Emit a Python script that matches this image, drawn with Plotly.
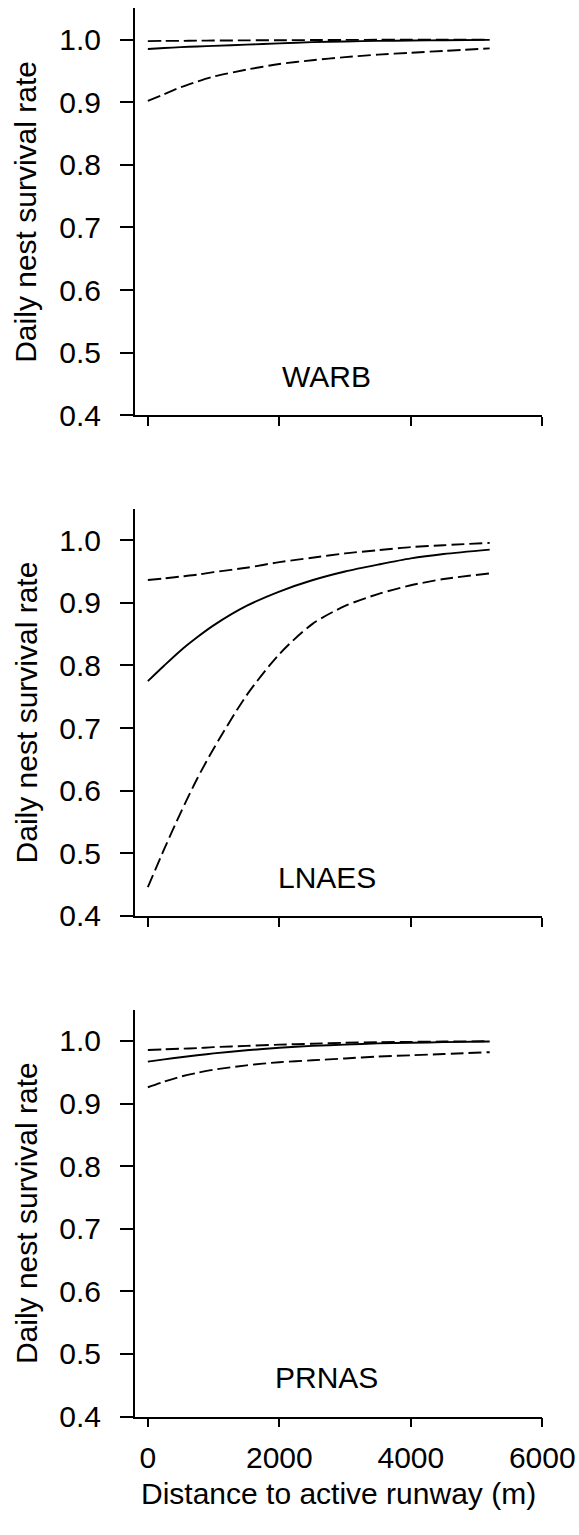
import plotly.graph_objects as go

# Distance to active runway (m)
distance = [0, 250, 500, 750, 1000, 1500, 2000, 2500, 3000, 3500, 4000, 4500, 5200]

species = ["WARB", "LNAES", "PRNAS"]

# Estimate (solid), upper and lower 95% CI (dashed)
warb_est = [0.985, 0.9865, 0.988, 0.989, 0.990, 0.992, 0.994, 0.996, 0.997, 0.998, 0.9985, 0.999, 0.9995]
warb_hi = [0.9975, 0.998, 0.998, 0.9983, 0.9985, 0.9988, 0.999, 0.9993, 0.9995, 0.9997, 0.9998, 0.9999, 0.9999]
warb_lo = [0.902, 0.913, 0.924, 0.933, 0.941, 0.952, 0.961, 0.967, 0.972, 0.976, 0.979, 0.982, 0.986]

lnaes_est = [0.775, 0.800, 0.824, 0.845, 0.864, 0.895, 0.918, 0.936, 0.950, 0.961, 0.971, 0.978, 0.985]
lnaes_hi = [0.9365, 0.939, 0.942, 0.945, 0.949, 0.956, 0.965, 0.972, 0.979, 0.984, 0.989, 0.992, 0.9957]
lnaes_lo = [0.446, 0.507, 0.565, 0.619, 0.667, 0.752, 0.818, 0.866, 0.895, 0.914, 0.928, 0.938, 0.947]

prnas_est = [0.967, 0.9705, 0.974, 0.977, 0.980, 0.985, 0.989, 0.992, 0.994, 0.996, 0.997, 0.998, 0.999]
prnas_hi = [0.9855, 0.9865, 0.9875, 0.9885, 0.990, 0.992, 0.994, 0.9955, 0.997, 0.998, 0.9985, 0.999, 0.9995]
prnas_lo = [0.926, 0.935, 0.943, 0.949, 0.954, 0.961, 0.966, 0.969, 0.972, 0.975, 0.977, 0.979, 0.982]

y_ticks = [0.4, 0.5, 0.6, 0.7, 0.8, 0.9, 1.0]
y_ticktext = ["0.4", "0.5", "0.6", "0.7", "0.8", "0.9", "1.0"]
x_ticks = [0, 2000, 4000, 6000]
x_ticktext = ["0", "2000", "4000", "6000"]

panels = [
    (warb_est, warb_hi, warb_lo),
    (lnaes_est, lnaes_hi, lnaes_lo),
    (prnas_est, prnas_hi, prnas_lo),
]

W, H = 579, 1535
FONT = "Arial, Liberation Sans, sans-serif"
FS = 30

tops = [8.3, 508.9, 1009.6]
ph = 407.0
x_left, x_right = 134.7, 542.3

fig = go.Figure()
layout = dict(
    template="none",
    width=W, height=H, autosize=False,
    margin=dict(l=0, r=0, t=0, b=0, pad=0),
    paper_bgcolor="white", plot_bgcolor="white",
    showlegend=False,
    font=dict(family=FONT, size=FS, color="black"),
)
annotations = []

for i, (est, hi, lo) in enumerate(panels):
    n = "" if i == 0 else str(i + 1)
    xa, ya = "x" + n, "y" + n
    for vals, dash in [(hi, "13px,5px"), (est, "solid"), (lo, "13px,5px")]:
        fig.add_trace(go.Scatter(
            x=distance, y=vals, mode="lines", xaxis=xa, yaxis=ya,
            line=dict(color="black", width=1.9, dash=dash, shape="spline", smoothing=0.8),
            hoverinfo="skip",
        ))
    top = tops[i]
    bottom = top + ph
    ydom = [(H - bottom) / H, (H - top) / H]
    layout["xaxis" + n] = dict(
        domain=[x_left / W, x_right / W], anchor=ya, range=[-200, 6000],
        tickvals=x_ticks, ticktext=x_ticktext, showticklabels=(i == 2),
        ticks="outside", ticklen=9, tickwidth=1.5, tickcolor="black",
        showline=True, linecolor="black", linewidth=1.5, automargin=False,
        showgrid=False, zeroline=False, ticklabelstandoff=5,
        tickfont=dict(family=FONT, size=FS, color="black"),
    )
    layout["yaxis" + n] = dict(
        domain=ydom, anchor=xa, range=[0.4, 1.05],
        tickvals=y_ticks, ticktext=y_ticktext,
        ticks="outside", ticklen=13, tickwidth=1.5, tickcolor="black",
        showline=True, linecolor="black", linewidth=1.5, automargin=False,
        showgrid=False, zeroline=False, ticklabelstandoff=13,
        tickfont=dict(family=FONT, size=FS, color="black"),
    )
    annotations.append(dict(
        x=2720, y=0.462, xref=xa, yref=ya, text=species[i], showarrow=False,
        font=dict(family=FONT, size=FS, color="black"), xanchor="center", yanchor="middle",
    ))
    annotations.append(dict(
        x=26 / W, y=(H - (top + bottom) / 2) / H, xref="paper", yref="paper",
        text="Daily nest survival rate", textangle=-90, showarrow=False,
        font=dict(family=FONT, size=FS, color="black"), xanchor="center", yanchor="middle",
    ))

annotations.append(dict(
    x=(x_left + x_right) / 2 / W, y=(H - 1493) / H, xref="paper", yref="paper",
    text="Distance to active runway (m)", showarrow=False,
    font=dict(family=FONT, size=FS, color="black"), xanchor="center", yanchor="middle",
))
layout["annotations"] = annotations
fig.update_layout(**layout)
fig.write_html("out.html")
